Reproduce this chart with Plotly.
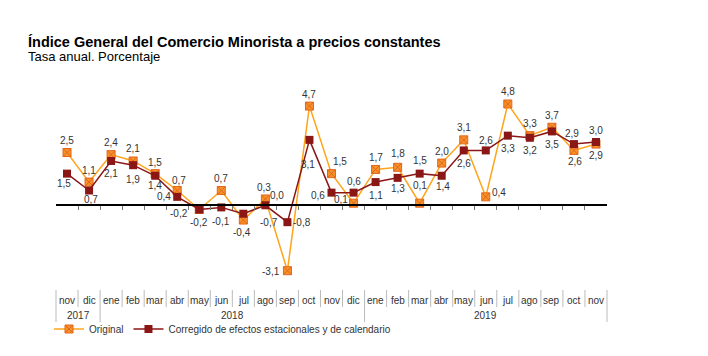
import plotly.graph_objects as go

# ---- data ----
months = ["nov", "dic",
          "ene", "feb", "mar", "abr", "may", "jun", "jul", "ago", "sep", "oct", "nov", "dic",
          "ene", "feb", "mar", "abr", "may", "jun", "jul", "ago", "sep", "oct", "nov"]
years = ["2017"] * 2 + ["2018"] * 12 + ["2019"] * 11
original = [2.5, 1.1, 2.4, 2.1, 1.5, 0.7, -0.2, 0.7, -0.7, 0.3, -3.1, 4.7, 1.5, 0.1,
            1.7, 1.8, 0.1, 2.0, 3.1, 0.4, 4.8, 3.3, 3.7, 2.6, 2.9]
corregido = [1.5, 0.7, 2.1, 1.9, 1.4, 0.4, -0.2, -0.1, -0.4, 0.0, -0.8, 3.1, 0.6, 0.6,
             1.1, 1.3, 1.5, 1.4, 2.6, 2.6, 3.3, 3.2, 3.5, 2.9, 3.0]
series_names = ["Original", "Corregido de efectos estacionales y de calendario"]
title = "Índice General del Comercio Minorista a precios constantes"
subtitle = "Tasa anual. Porcentaje"

# ---- label offsets (pixels: dx right, dy down) ----
off_orig = [(0, -12), (0, -12), (0, -12), (0, -12), (0, -11), (2, -10), (-20, 4), (0, -12),
            (26, 2), (-1, -11), (-16, 1), (0, -12), (8, -12), (-13, -4), (0, -12), (0, -14),
            (0, -18), (0, -12), (0, -12), (13, -4), (0, -12), (0, -12), (0, -12), (1, 11), (0, 11)]
off_corr = [(-3, 10), (2, 9), (0, 13), (0, 14), (0, 10), (-13, 0), (0, 13), (0, 14),
            (-1, 19), (12, -10), (15, 0), (-1, 25), (-14, 3), (0, -11), (0, 13), (0, 11),
            (0, -13), (1, 11), (0, 13), (0, -10), (0, 13), (0, 13), (0, 13), (-2, -11), (0, -11)]

FONT = "Arial, Liberation Sans, sans-serif"
ORANGE_LINE = "#FFA41C"
ORANGE_MK = "#F7922A"
ORANGE_MK_LINE = "#E2661A"
RED = "#8B1616"
SEP = "#BBBBBB"

W, H = 708, 356
OFF = 8  # page body margin
ML, PW, MT, PH = 56 - OFF, 551, 85 - OFF, 205
MR, MB = W - ML - PW, H - MT - PH
ymin, ymax = -4.014, 5.70
n = len(months)
xs = list(range(n))


def py(px_below):
    """paper y for a pixel distance below the plot-area bottom"""
    return -px_below / PH


def fmt(v):
    return f"{v:.1f}".replace(".", ",")


fig = go.Figure()
fig.add_trace(go.Scatter(
    x=xs, y=original, name=series_names[0], mode="lines+markers",
    line=dict(color=ORANGE_LINE, width=1.5),
    marker=dict(symbol="square-x", size=8, color=ORANGE_MK,
                line=dict(color=ORANGE_MK_LINE, width=1)),
))
fig.add_trace(go.Scatter(
    x=xs, y=corregido, name=series_names[1], mode="lines+markers",
    line=dict(color=RED, width=1.5),
    marker=dict(symbol="square", size=8, color=RED, line=dict(width=0)),
))

annots = []
for vals, offs in ((original, off_orig), (corregido, off_corr)):
    for i, v in enumerate(vals):
        dx, dy = offs[i]
        annots.append(dict(x=i, y=v, xref="x", yref="y", text=fmt(v), showarrow=False,
                           xshift=dx, yshift=-dy,
                           font=dict(family=FONT, size=10, color="#333333")))

# month labels
for i, m in enumerate(months):
    annots.append(dict(x=i, y=py(10), xref="x", yref="paper", text=m, showarrow=False,
                       yanchor="middle", font=dict(family=FONT, size=10, color="#333333")))

# year groups
groups = []
start = 0
for i in range(1, n + 1):
    if i == n or years[i] != years[start]:
        groups.append((years[start], start, i - 1))
        start = i
for yr, a, b in groups:
    annots.append(dict(x=(a + b) / 2, y=py(25), xref="x", yref="paper", text=yr,
                       showarrow=False, yanchor="middle",
                       font=dict(family=FONT, size=10, color="#333333")))

# title / subtitle (pixel targets in page coords)
annots.append(dict(x=(26 - OFF - ML) / PW, y=(PH + MT - (42 - OFF)) / PH, xref="paper",
                   yref="paper", text=f"<b>{title}</b>", showarrow=False, xanchor="left",
                   yanchor="middle", font=dict(family=FONT, size=14.5, color="black")))
annots.append(dict(x=(26 - OFF - ML) / PW, y=(PH + MT - (56 - OFF)) / PH, xref="paper",
                   yref="paper", text=subtitle, showarrow=False, xanchor="left",
                   yanchor="middle", font=dict(family=FONT, size=13, color="black")))

# table separators
shapes = []
year_bounds = {-1, n - 1} | {b for _, _, b in groups}
for b in range(-1, n):
    xp = (b + 1) / n
    bottom = py(32) if b in year_bounds else py(17)
    shapes.append(dict(type="line", xref="paper", yref="paper", x0=xp, x1=xp,
                       y0=0, y1=bottom, line=dict(color=SEP, width=1)))

zero_pos = (0 - ymin) / (ymax - ymin)

fig.update_layout(
    width=W, height=H,
    margin=dict(l=ML, r=MR, t=MT, b=MB),
    paper_bgcolor="white", plot_bgcolor="white",
    font=dict(family=FONT, size=10, color="#333333"),
    showlegend=True,
    legend=dict(orientation="h", x=-7 / PW, xanchor="left", y=py(39), yanchor="middle",
                font=dict(family=FONT, size=10, color="#333333"),
                bgcolor="rgba(0,0,0,0)", itemwidth=30, tracegroupgap=0),
    xaxis=dict(range=[-0.5, n - 0.5], anchor="free", position=zero_pos,
               showgrid=False, zeroline=False, showline=True, linecolor="black",
               linewidth=1.5, ticks="outside", ticklen=4, tickcolor="#777777",
               tickvals=[i + 0.5 for i in range(n - 1)], showticklabels=False),
    yaxis=dict(range=[ymin, ymax], showgrid=False, zeroline=False, showline=False,
               showticklabels=False, ticks=""),
    annotations=annots,
    shapes=shapes,
)

fig.write_html("out.html")
